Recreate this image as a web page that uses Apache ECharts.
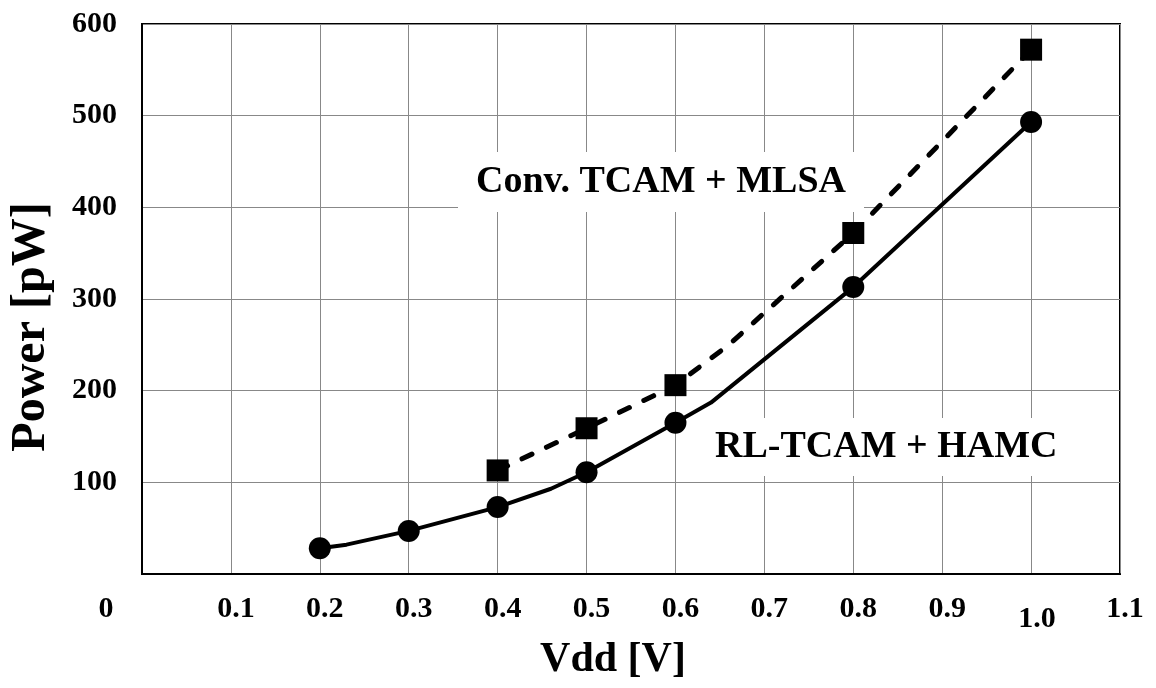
<!DOCTYPE html>
<html>
<head>
<meta charset="utf-8">
<script src="https://cdn.jsdelivr.net/npm/echarts@6/dist/echarts.min.js"></script>
<style>
  html, body { margin: 0; padding: 0; background: #fff; }
  #chart { width: 1156px; height: 688px; }
</style>
</head>
<body>
<div id="chart"></div>
<script>
// RL-TCAM + HAMC (solid line, circles); bend points have no marker
const rlVdd = [0.2, 0.23, 0.3, 0.4, 0.46, 0.5, 0.6, 0.64, 0.8, 1.0]
const rlPower = [28, 32, 47, 73, 93, 111, 165, 187, 313, 493]
const rlMarked = [1, 0, 1, 1, 0, 1, 1, 0, 1, 1]

// Conv. TCAM + MLSA (dashed line, squares)
const cvVdd = [0.4, 0.5, 0.6, 0.66, 0.8, 1.0]
const cvPower = [113, 159, 206, 250, 372, 572]
const cvMarked = [1, 1, 1, 0, 1, 1]

const seriesNames = ['RL-TCAM + HAMC', 'Conv. TCAM + MLSA']

const font = "'Liberation Serif', 'Times New Roman', serif"

function toPoints(xs, ys, marks) {
  return xs.map((x, i) => ({
    value: [x, ys[i]],
    symbolSize: marks[i] ? 22 : 0
  }))
}

const chart = echarts.init(document.getElementById('chart'))

const option = {
  backgroundColor: '#fff',
  animation: false,
  grid: {
    left: 142,
    right: 36,
    top: 24,
    bottom: 114,
    show: true,
    borderColor: '#000',
    borderWidth: 2,
    backgroundColor: 'transparent'
  },
  xAxis: {
    type: 'value',
    min: 0,
    max: 1.1,
    interval: 0.1,
    name: 'Vdd [V]',
    nameLocation: 'middle',
    nameGap: 58,
    nameTextStyle: {
      fontFamily: font, fontWeight: 'bold', fontSize: 42, color: '#000',
      padding: [0, 36, 0, 0]
    },
    axisLine: { show: true, lineStyle: { color: '#000', width: 2 } },
    axisTick: { show: false },
    splitLine: { show: true, lineStyle: { color: '#888', width: 1 } },
    axisLabel: {
      margin: 20,
      formatter: v => {
        if (v === 0) return '{z|0}'
        const s = v.toFixed(1)
        return s === '1.0' ? '{low|' + s + '}' : '{a|' + s + '}'
      },
      rich: {
        a: { fontFamily: font, fontWeight: 'bold', fontSize: 30, color: '#000', padding: [0, 0, 0, 10] },
        low: { fontFamily: font, fontWeight: 'bold', fontSize: 30, color: '#000', padding: [10, 0, 0, 12] },
        z: { fontFamily: font, fontWeight: 'bold', fontSize: 30, color: '#000', padding: [0, 72, 0, 0] }
      }
    }
  },
  yAxis: {
    type: 'value',
    min: 0,
    max: 600,
    interval: 100,
    name: 'Power [pW]',
    nameLocation: 'middle',
    nameGap: 86,
    nameTextStyle: {
      fontFamily: font, fontWeight: 'bold', fontSize: 48, color: '#000',
      padding: [0, 56, 0, 0]
    },
    axisLine: { show: true, lineStyle: { color: '#000', width: 2 } },
    axisTick: { show: false },
    splitLine: { show: true, lineStyle: { color: '#888', width: 1 } },
    axisLabel: {
      margin: 25,
      fontFamily: font,
      fontWeight: 'bold',
      fontSize: 30,
      color: '#000',
      formatter: v => (v === 0 ? '' : String(v))
    }
  },
  graphic: [
    {
      type: 'text',
      left: 458,
      top: 152,
      z: 5,
      style: {
        text: seriesNames[1],
        fontFamily: font,
        fontWeight: 'bold',
        fontSize: 38,
        fill: '#000',
        backgroundColor: '#fff',
        padding: [11, 18, 11, 18]
      }
    },
    {
      type: 'text',
      left: 697,
      top: 418,
      z: 5,
      style: {
        text: seriesNames[0],
        fontFamily: font,
        fontWeight: 'bold',
        fontSize: 38,
        fill: '#000',
        backgroundColor: '#fff',
        padding: [10, 18, 10, 18]
      }
    }
  ],
  series: [
    {
      name: seriesNames[0],
      type: 'line',
      z: 10,
      symbol: 'circle',
      data: toPoints(rlVdd, rlPower, rlMarked),
      lineStyle: { color: '#000', width: 4 },
      itemStyle: { color: '#000' }
    },
    {
      name: seriesNames[1],
      type: 'line',
      z: 10,
      symbol: 'rect',
      data: toPoints(cvVdd, cvPower, cvMarked),
      lineStyle: { color: '#000', width: 5, type: [11, 16], cap: 'round' },
      itemStyle: { color: '#000' }
    }
  ]
}

chart.setOption(option)
</script>
</body>
</html>
